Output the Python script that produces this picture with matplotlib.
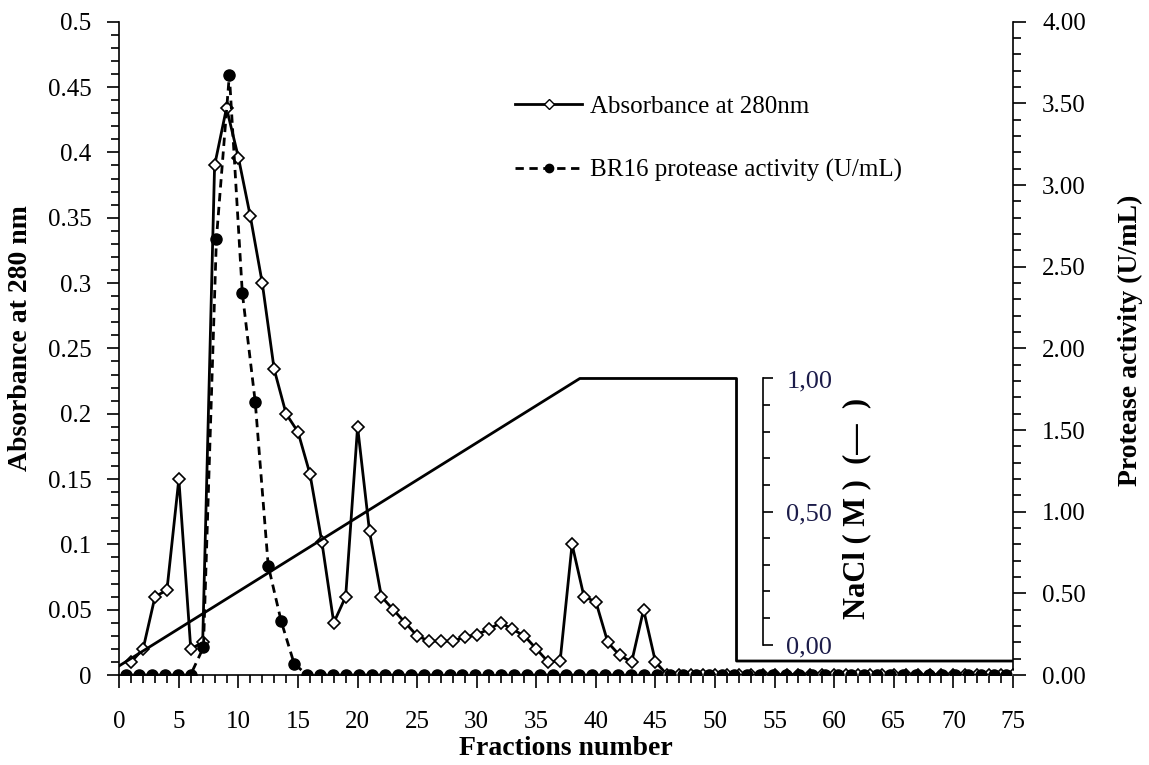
import matplotlib
matplotlib.use("Agg")
import matplotlib.pyplot as plt
from matplotlib.lines import Line2D
from matplotlib.ticker import MultipleLocator, FuncFormatter

plt.rcParams['font.family'] = ['Liberation Serif', 'DejaVu Serif']

# Absorbance at 280 nm, fractions 1..75
fractions = list(range(1, 76))
absorbance = [0.010, 0.020, 0.060, 0.065, 0.150, 0.020, 0.025, 0.390, 0.434, 0.396,
              0.351, 0.300, 0.234, 0.200, 0.186, 0.154, 0.102, 0.040, 0.060, 0.190,
              0.110, 0.060, 0.050, 0.040, 0.030, 0.026, 0.026, 0.026, 0.029, 0.031,
              0.035, 0.040, 0.035, 0.030, 0.020, 0.010, 0.011, 0.100, 0.060, 0.056,
              0.025, 0.015, 0.010, 0.050, 0.010, 0, 0, 0, 0, 0,
              0, 0, 0, 0, 0, 0, 0, 0, 0, 0,
              0, 0, 0, 0, 0, 0, 0, 0, 0, 0,
              0, 0, 0, 0, 0]

# protease activity (U/mL), plotted on its own category axis (69 samples)
protease_idx = list(range(1, 70))
protease = [0, 0, 0, 0, 0, 0, 0.17, 2.67, 3.675, 2.34,
            1.67, 0.67, 0.33, 0.07, 0, 0, 0, 0, 0, 0,
            0, 0, 0, 0, 0, 0, 0, 0, 0, 0,
            0, 0, 0, 0, 0, 0, 0, 0, 0, 0,
            0, 0, 0, 0, 0, 0, 0, 0, 0, 0,
            0, 0, 0, 0, 0, 0, 0, 0, 0, 0,
            0, 0, 0, 0, 0, 0, 0, 0, 0]

# NaCl gradient (M) vs fraction
nacl_x = [0, 38.65, 51.8, 51.8, 75]
nacl_y = [-0.08, 1.0, 1.0, -0.062, -0.062]

fig = plt.figure(figsize=(11.49, 7.65), dpi=100)
pos = [0.1038, 0.1176, 0.7778, 0.8540]
ax = fig.add_axes(pos)

ax.plot(fractions, absorbance, color='black', lw=2, marker='D', ms=6.5,
        mfc='white', mec='black', mew=1.2, zorder=3)
ax.set_xlim(0, 75)
ax.set_ylim(0, 0.5)
ax.xaxis.set_major_locator(MultipleLocator(5))
ax.xaxis.set_minor_locator(MultipleLocator(1))
ax.yaxis.set_major_locator(MultipleLocator(0.05))
ax.yaxis.set_minor_locator(MultipleLocator(0.01))
ax.yaxis.set_major_formatter(FuncFormatter(lambda v, p: '%g' % round(v, 3)))
ax.spines['top'].set_visible(False)
for s in ['left', 'bottom', 'right']:
    ax.spines[s].set_linewidth(1.2)
ax.tick_params(axis='both', which='both', direction='out', width=1.2, labelsize=18)
ax.tick_params(which='major', length=9)
ax.tick_params(which='minor', length=6)
ax.tick_params(axis='x', pad=17)
ax.tick_params(axis='y', pad=11)

ax.set_xlabel('Fractions number', fontsize=20, fontweight='bold')
ax.xaxis.set_label_coords(0.5, -0.093)
ax.set_ylabel('Absorbance at 280 nm', fontsize=20, fontweight='bold', va='center')
ax.yaxis.set_label_coords(-0.111, 0.516)

# NaCl gradient overlay
ax_n = ax.twinx()
ax_n.plot(nacl_x, nacl_y, color='black', lw=2, zorder=2)
ax_n.set_ylim(-0.1147, 2.341)
ax_n.set_yticks([])
for s in ax_n.spines.values():
    s.set_visible(False)

# small NaCl scale
ax_s = ax_n.inset_axes([53.2, 0, 0.8, 1], transform=ax_n.transData)
ax_s.patch.set_visible(False)
for s in ['left', 'top', 'bottom']:
    ax_s.spines[s].set_visible(False)
ax_s.spines['right'].set_linewidth(1.2)
ax_s.set_xticks([])
ax_s.set_ylim(0, 1)
ax_s.yaxis.tick_right()
ax_s.set_yticks([0, 0.5, 1])
ax_s.set_yticklabels(['0,00', '0,50', '1,00'], color='#1c1c4a',
                     fontsize=19, fontstretch='condensed')
ax_s.yaxis.set_minor_locator(MultipleLocator(0.1))
ax_s.tick_params(axis='y', which='both', direction='out', width=1.2, pad=10)
ax_s.tick_params(which='major', length=7)
ax_s.tick_params(which='minor', length=5)
ax.text(0.8254, 0.2556, 'NaCl ( M )  (—  )', transform=ax.transAxes, rotation=90,
        ha='center', va='center', fontsize=22, fontweight='bold')

# protease activity on secondary category axis
ax_p = fig.add_axes(pos, frameon=False)
ax_p.plot(protease_idx, protease, color='black', lw=2, ls=(0, (3, 2)),
          marker='o', ms=8, mfc='black', mec='black')
ax_p.set_xlim(0.5, 69.5)
ax_p.set_ylim(0, 4)
ax_p.set_xticks([])
ax_p.yaxis.tick_right()
ax_p.yaxis.set_label_position('right')
ax_p.yaxis.set_major_locator(MultipleLocator(0.5))
ax_p.yaxis.set_minor_locator(MultipleLocator(0.1))
ax_p.yaxis.set_major_formatter(FuncFormatter(lambda v, p: '%.2f' % v))
ax_p.tick_params(axis='y', which='both', direction='out', width=1.2, labelsize=18, pad=12)
ax_p.tick_params(which='major', length=9)
ax_p.tick_params(which='minor', length=6)
ax_p.set_ylabel('Protease activity (U/mL)', fontsize=20, fontweight='bold',
                rotation=90, va='center')
ax_p.yaxis.set_label_coords(1.131, 0.513)

handles = [Line2D([], [], color='black', lw=2, marker='D', ms=5, mfc='white', mec='black'),
           Line2D([], [], color='black', lw=2, ls=(0, (3, 2)), marker='o', ms=6, mfc='black')]
fig.legend(handles, ['Absorbance at 280nm', 'BR16 protease activity (U/mL)'],
           loc='upper left', bbox_to_anchor=(0.448, 0.875), frameon=False,
           fontsize=18, handlelength=2.7, handletextpad=0.3, labelspacing=1.62,
           borderpad=0, borderaxespad=0)

fig.savefig('out.png', dpi=100)
